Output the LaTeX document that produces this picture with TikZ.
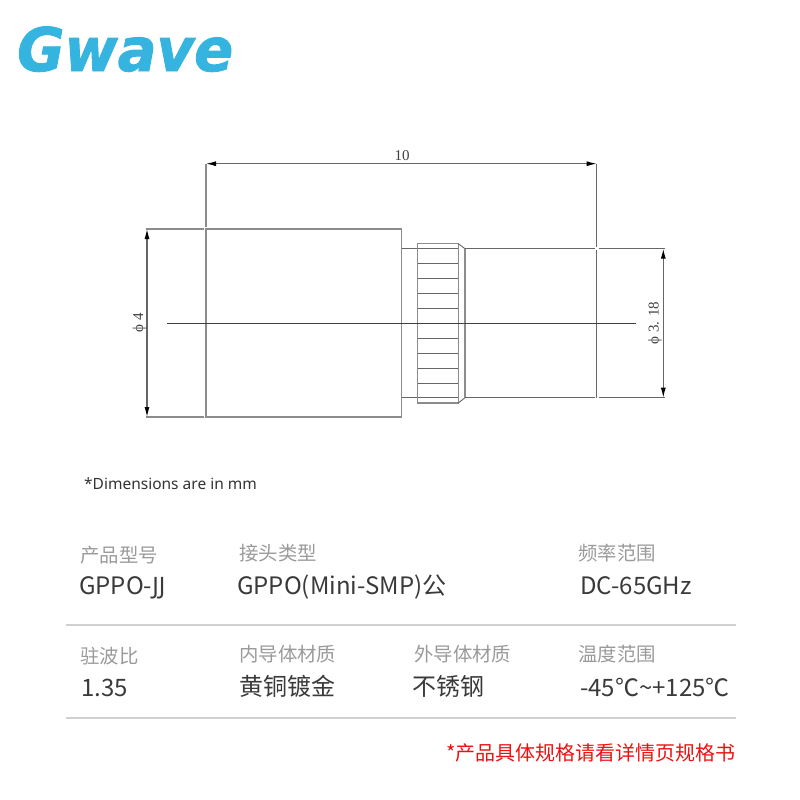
\documentclass[tikz,border=0pt]{standalone}
\usepackage{fontspec}
\usetikzlibrary{arrows.meta}
\setmainfont{Noto Sans CJK SC}
\newfontfamily\dimfont{Liberation Serif}
\newfontfamily\logofont[FakeBold=1.5]{DejaVu Sans Bold Oblique}
\newfontfamily\latinfont{Noto Sans}
\definecolor{logoblue}{HTML}{36B4E0}
\definecolor{labelgray}{HTML}{9A9A9A}
\definecolor{valuedark}{HTML}{3A3A3A}
\definecolor{rulegray}{HTML}{D0D0D0}
\definecolor{partline}{HTML}{8C8C8C}
\definecolor{thinline}{HTML}{666666}
\definecolor{alert}{HTML}{F01010}
\tikzset{
  part/.style={draw=partline,line width=1.2pt},
  thin part/.style={draw=thinline,line width=0.9pt},
  centre/.style={draw=black!75,line width=0.7pt},
  dimline/.style={draw=thinline,line width=1.1pt},
  dimarrow/.style={dimline,{Latex[length=10pt,width=5pt,black]}-{Latex[length=10pt,width=5pt,black]}},
  dimtext/.style={font=\dimfont\fontsize{15}{15}\selectfont,text=black!75,inner sep=0pt},
  labeltext/.style={anchor=base west,inner sep=0pt,text=labelgray,font=\fontsize{19.4}{19.4}\selectfont},
  valuetext/.style={anchor=base west,inner sep=0pt,text=valuedark,font=\fontsize{24}{24}\selectfont},
  tablerule/.style={draw=rulegray,line width=2pt},
}
\begin{document}
\begin{tikzpicture}[x=1pt,y=-1pt]
\useasboundingbox (0,0) rectangle (800,800);
% logo
\node[anchor=base west,inner sep=0pt,text=logoblue,xscale=0.96] (logo) at (17,71)
  {\fontsize{60}{60}\selectfont\logofont Gwave};
% connector body
\draw[part] (206,229) rectangle (401.7,417);
\draw[thin part] (401.7,248.7) -- (417.7,248.7);
\draw[thin part] (401.7,397.7) -- (417.7,397.7);
\draw[part] (417.7,243.7) rectangle (458.3,403);
\draw[thin part] (458.3,243.7) -- (465,248.7);
\draw[thin part] (458.3,403) -- (465,397.7);
\draw[part] (465,248.7) -- (465,397.7);
\foreach \yy in {248.7,263.7,278.3,293.3,308.3,338.3,353.3,368.3,383,397.7}
  \draw[thin part] (417.7,\yy) -- (458.3,\yy);
\draw[thin part] (465,248.7) -- (594.6,248.7) (598.8,248.7) -- (665,248.7);
\draw[thin part] (465,397.7) -- (594.6,397.7) (598.8,397.7) -- (665,397.7);
\draw[thin part] (596.7,250) -- (596.7,397.7);
% centre line
\draw[centre] (167,323) -- (636,323);
% dimension 10
\coordinate (dl) at (206,163.7);
\coordinate (dr) at (596.7,163.7);
\draw[part] (206,163.7) -- (206,227);
\draw[thin part] (596.7,163.7) -- (596.7,246.5);
\draw[dimarrow] (dl) -- (dr);
\node[dimtext] (ten) at (402,155.5) {10};
% dimension phi 4
\coordinate (ft) at (147,229);
\coordinate (fb) at (147,417);
\draw[part] (146,229) -- (203.5,229) (146,417) -- (203.5,417);
\draw[dimarrow] (ft) -- (fb);
\node[dimtext,rotate=90] (phifour) at (139.5,323) {ϕ 4};
% dimension phi 3.18
\coordinate (st) at (663.3,248.7);
\coordinate (sb) at (663.3,397.7);
\draw[dimarrow] (st) -- (sb);
\node[dimtext,rotate=90] (phithree) at (655,323) {ϕ 3. 18};
% note
\node[anchor=base west,inner sep=0pt,text=black!80,font=\latinfont\fontsize{15.5}{15.5}\selectfont] (note) at (84,489) {*Dimensions are in mm};
% table
\node[labeltext] (l1) at (80,562) {产品型号};
\node[labeltext] (l2) at (239,560) {接头类型};
\node[labeltext] (l3) at (578,560) {频率范围};
\node[valuetext] (v1) at (79,594) {GPPO-{\latinfont JJ}};
\node[valuetext] (v2) at (237,594) {GPPO(Mini-SMP)公};
\node[valuetext] (v3) at (580,594) {DC-65GHz};
\draw[tablerule] (66,625) -- (736,625);
\node[labeltext] (l4) at (80,663) {驻波比};
\node[labeltext] (l5) at (239,661) {内导体材质};
\node[labeltext] (l6) at (414,661) {外导体材质};
\node[labeltext] (l7) at (578,661) {温度范围};
\node[valuetext] (v4) at (81,696) {1.35};
\node[valuetext] (v5) at (239,695.5) {黄铜镀金};
\node[valuetext] (v6) at (412,695.5) {不锈钢};
\node[valuetext] (v7) at (580,696) {-45℃\textasciitilde+125℃};
\draw[tablerule] (66,718) -- (736,718);
\node[anchor=base east,inner sep=0pt,text=alert,font=\fontsize{20}{20}\selectfont] (warn) at (736,760.5) {*产品具体规格请看详情页规格书};
\end{tikzpicture}
\end{document}
